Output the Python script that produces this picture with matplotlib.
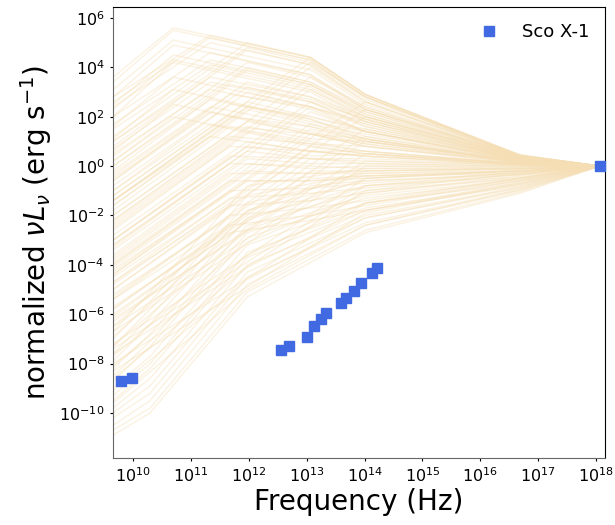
import numpy as np
import matplotlib.pyplot as plt

# -----------------------------
# Model SED curves (log10 values)
# every curve ends at the 5 keV point (1.2e18 Hz, 1)
# -----------------------------
NU_LEFT = 9.65
NU_END = 18.07
NU_12 = 11.97
NU_13 = 13.06
NU_14 = 14.01     # common knee in the optical
NU_167 = 16.69    # common knee before the X-ray point

# curves peaking at 10^10.7 Hz
A_LEFT = [3.6, 3.4, 3.1, 2.8, 2.5, 2.3, 2.0, 1.6, 1.1, 0.6, 0.2]
A_PEAK = [5.6, 5.5, 5.1, 4.9, 4.5, 4.3, 4.2, 3.6, 3.1, 2.5, 2.0]
A_Y13 = [4.4, 4.3, 3.9, 3.7, 3.3, 3.1, 3.0, 2.4, 1.9, 1.3, 0.8]
A_Y14 = [2.9, 2.8, 2.5, 2.3, 2.1, 1.9, 1.8, 1.4, 1.1, 0.8, 0.5]
A_Y167 = [0.40, 0.35, 0.35, 0.30, 0.30, 0.25, 0.25, 0.20, 0.15, 0.10, 0.05]

# curves peaking at 10^11.3 Hz
B_LEFT = [2.8, 2.6, 2.4, 2.0, 1.7, 1.5, 1.0, 0.7, 0.5, 0.0, -0.3, -0.5, -1.0, -1.4]
B_PEAK = [5.3, 5.2, 5.0, 4.6, 4.3, 4.1, 3.6, 3.4, 3.1, 2.7, 2.4, 2.2, 1.7, 1.2]
B_Y13 = [4.4, 4.3, 4.1, 3.7, 3.4, 3.2, 2.8, 2.6, 2.3, 1.9, 1.6, 1.4, 1.0, 0.6]
B_Y14 = [2.9, 2.8, 2.6, 2.4, 2.2, 2.0, 1.8, 1.6, 1.4, 1.2, 1.0, 0.9, 0.6, 0.4]
B_Y167 = [0.42, 0.40, 0.40, 0.35, 0.33, 0.30, 0.30, 0.28, 0.25, 0.20, 0.18, 0.15, 0.10, 0.05]

# curves peaking at 10^11.7 Hz
G_LEFT = [-0.2, -0.6, -1.0, -1.4, -1.8, -2.2, -2.6, -3.0, -3.3, -3.7, -4.0, -4.4,
          -4.7, -5.0, -5.4, -5.8, -6.1]
G_PEAK = [3.3, 2.9, 2.5, 2.0, 1.6, 1.2, 0.8, 0.4, 0.1, -0.3, -0.6, -1.0,
          -1.3, -1.6, -2.0, -2.4, -2.7]
G_Y13 = [2.7, 2.4, 2.0, 1.6, 1.3, 0.9, 0.6, 0.3, 0.0, -0.3, -0.6, -0.9,
         -1.1, -1.4, -1.7, -2.0, -2.2]
G_Y14 = [1.9, 1.7, 1.4, 1.1, 0.9, 0.6, 0.4, 0.1, -0.1, -0.3, -0.5, -0.7,
         -0.9, -1.1, -1.4, -1.6, -1.8]
G_Y167 = [0.30, 0.25, 0.20, 0.18, 0.15, 0.10, 0.05, 0.00, -0.05, -0.12, -0.20, -0.25,
          -0.35, -0.40, -0.50, -0.58, -0.65]

# curves peaking at 10^12 Hz
C_LEFT = [1.2, 1.0, 0.8, 0.4, 0.2, 0.0, -0.4, -0.6, -0.8, -1.2, -1.4, -1.6, -2.0,
          -2.2, -2.4, -2.8, -3.0, -3.2, -3.6, -3.8, -4.0, -4.4]
C_PEAK = [5.0, 4.8, 4.7, 4.2, 4.0, 3.9, 3.4, 3.2, 3.0, 2.6, 2.4, 2.3, 1.8,
          1.6, 1.4, 1.0, 0.8, 0.6, 0.3, 0.1, -0.2, -0.6]
C_Y13 = [4.4, 4.2, 4.1, 3.6, 3.4, 3.3, 2.8, 2.6, 2.4, 2.0, 1.8, 1.7, 1.3,
         1.1, 0.9, 0.6, 0.4, 0.3, 0.1, -0.1, -0.3, -0.6]
C_Y14 = [2.9, 2.8, 2.7, 2.4, 2.3, 2.2, 2.0, 1.9, 1.8, 1.5, 1.4, 1.3, 1.1,
         1.0, 0.8, 0.6, 0.5, 0.3, 0.1, 0.0, -0.2, -0.4]
C_Y167 = [0.45, 0.44, 0.42, 0.40, 0.40, 0.38, 0.35, 0.33, 0.30, 0.28, 0.27, 0.25, 0.20,
          0.18, 0.15, 0.10, 0.08, 0.05, 0.00, -0.05, -0.10, -0.20]

# curves peaking at 10^13.1 Hz
D_LEFT = [-1.2, -1.4, -1.6, -2.0, -2.3, -2.5, -3.0, -3.2, -3.4, -3.9, -4.1, -4.3,
          -4.8, -5.0, -5.3, -5.8, -6.0, -6.3]
D_PEAK = [4.4, 4.2, 4.0, 3.6, 3.3, 3.1, 2.6, 2.4, 2.2, 1.7, 1.5, 1.3,
          0.8, 0.6, 0.3, -0.2, -0.5, -0.8]
D_Y14 = [2.9, 2.8, 2.6, 2.3, 2.1, 2.0, 1.7, 1.6, 1.4, 1.1, 1.0, 0.8,
         0.5, 0.4, 0.2, -0.2, -0.4, -0.6]
D_Y167 = [0.45, 0.43, 0.40, 0.38, 0.36, 0.35, 0.30, 0.28, 0.25, 0.20, 0.18, 0.15,
          0.10, 0.08, 0.05, -0.10, -0.20, -0.30]

# curves rising up to 10^14 Hz
E_LEFT = [-4.2, -4.5, -4.7, -5.2, -5.4, -5.7, -6.2, -6.5, -6.7, -7.2, -7.4, -7.6, -8.0, -8.3]
E_Y14 = [2.6, 2.3, 2.0, 1.5, 1.2, 1.0, 0.5, 0.2, 0.0, -0.5, -0.8, -1.0, -1.5, -1.9]
E_Y167 = [0.40, 0.38, 0.35, 0.30, 0.25, 0.20, 0.10, 0.05, 0.00, -0.15, -0.25, -0.30, -0.50, -0.70]

# low curves with a single break at 10^12 Hz
H_LEFT = [-9.6, -9.1, -8.6, -8.1, -7.7, -7.3, -6.9, -6.5]
H_Y12 = [-5.0, -4.6, -4.1, -3.6, -3.1, -2.6, -2.2, -1.8]
H_Y14 = [-2.4, -2.1, -1.8, -1.5, -1.1, -0.8, -0.5, -0.2]
H_Y167 = [-0.95, -0.85, -0.75, -0.62, -0.48, -0.35, -0.22, -0.10]

# steep low curves: knee at 10^10.3 Hz, break at 10^12 Hz
F_LEFT = [-10.9, -10.7, -10.5, -10.2, -10.0, -9.8, -9.5, -9.3, -9.0, -8.7, -8.5,
          -8.2, -7.9, -7.6, -7.3, -7.0, -6.7]
F_KNEE = [-10.0, -9.8, -9.5, -9.2, -8.9, -8.6, -8.2, -8.0, -7.7, -7.3, -7.1,
          -6.8, -6.4, -6.1, -5.8, -5.5, -5.1]
F_BREAK = [-5.3, -5.1, -4.8, -4.5, -4.3, -4.0, -3.7, -3.5, -3.2, -2.9, -2.7,
           -2.4, -2.1, -1.8, -1.5, -1.2, -0.8]
F_Y14 = [-2.7, -2.6, -2.4, -2.3, -2.1, -2.0, -1.8, -1.7, -1.5, -1.3, -1.2,
         -1.0, -0.8, -0.6, -0.4, -0.3, -0.1]
F_Y167 = [-1.10, -1.05, -1.00, -0.95, -0.90, -0.85, -0.80, -0.75, -0.70, -0.60, -0.55,
          -0.50, -0.45, -0.35, -0.30, -0.20, -0.10]

# -----------------------------
# Sco X-1 photometry
# -----------------------------
SCO_NU = [6.05e9, 9.4e9, 3.6e12, 5.0e12, 1.01e13, 1.35e13, 1.77e13, 2.16e13,
          3.87e13, 4.73e13, 6.58e13, 8.6e13, 1.36e14, 1.63e14, 1.2e18]
SCO_L = [2.0e-9, 2.5e-9, 3.5e-8, 5.2e-8, 1.2e-7, 3.2e-7, 6.3e-7, 1.07e-6,
         2.7e-6, 4.4e-6, 8.5e-6, 1.8e-5, 4.5e-5, 7.1e-5, 1.0]

X_TICKS = [1e10, 1e11, 1e12, 1e13, 1e14, 1e15, 1e16, 1e17, 1e18]
Y_TICKS = [1e-10, 1e-8, 1e-6, 1e-4, 1e-2, 1e0, 1e2, 1e4, 1e6]

LINE_KW = dict(color="wheat", alpha=0.4, lw=1.0, zorder=1)

fig = plt.figure(figsize=(6.15, 5.25), dpi=100)
ax = fig.add_axes([0.184, 0.128, 0.800, 0.859])


def draw_curve(xs, ys):
    ax.plot(10 ** np.array(xs), 10 ** np.array(ys), **LINE_KW)


for l, p, m, a, b in zip(A_LEFT, A_PEAK, A_Y13, A_Y14, A_Y167):
    draw_curve([NU_LEFT, 10.69, NU_13, NU_14, NU_167, NU_END], [l, p, m, a, b, 0])
for l, p, m, a, b in zip(B_LEFT, B_PEAK, B_Y13, B_Y14, B_Y167):
    draw_curve([NU_LEFT, 11.33, NU_13, NU_14, NU_167, NU_END], [l, p, m, a, b, 0])
for l, p, m, a, b in zip(G_LEFT, G_PEAK, G_Y13, G_Y14, G_Y167):
    draw_curve([NU_LEFT, 11.67, NU_13, NU_14, NU_167, NU_END], [l, p, m, a, b, 0])
for l, p, m, a, b in zip(C_LEFT, C_PEAK, C_Y13, C_Y14, C_Y167):
    draw_curve([NU_LEFT, NU_12, NU_13, NU_14, NU_167, NU_END], [l, p, m, a, b, 0])
for l, p, a, b in zip(D_LEFT, D_PEAK, D_Y14, D_Y167):
    draw_curve([NU_LEFT, NU_13, NU_14, NU_167, NU_END], [l, p, a, b, 0])
for l, a, b in zip(E_LEFT, E_Y14, E_Y167):
    draw_curve([NU_LEFT, NU_14, NU_167, NU_END], [l, a, b, 0])
for l, m, a, b in zip(H_LEFT, H_Y12, H_Y14, H_Y167):
    draw_curve([NU_LEFT, NU_12, NU_14, NU_167, NU_END], [l, m, a, b, 0])
for l, k, br, a, b in zip(F_LEFT, F_KNEE, F_BREAK, F_Y14, F_Y167):
    draw_curve([NU_LEFT, 10.29, NU_12, NU_14, NU_167, NU_END], [l, k, br, a, b, 0])

ax.plot(SCO_NU, SCO_L, ls="none", marker="s", ms=7, color="royalblue",
        label="Sco X-1", zorder=3, clip_on=False)

ax.set_xscale("log")
ax.set_yscale("log")
ax.set_xlim(10 ** 9.65, 10 ** 18.16)
ax.set_ylim(10 ** -11.82, 10 ** 6.45)
ax.set_xticks(X_TICKS)
ax.set_yticks(Y_TICKS)
ax.minorticks_off()
ax.tick_params(labelsize=11.5, length=2.5)

ax.spines["left"].set_color("0.4")
ax.spines["bottom"].set_color("0.4")

ax.set_xlabel("Frequency (Hz)", fontsize=20, labelpad=2)
ax.set_ylabel(r"normalized $\nu L_\nu$ (erg s$^{-1}$)", fontsize=20, labelpad=4)
ax.legend(loc="upper right", frameon=False, fontsize=13, handletextpad=0.8)

fig.savefig("out.png", dpi=100)
